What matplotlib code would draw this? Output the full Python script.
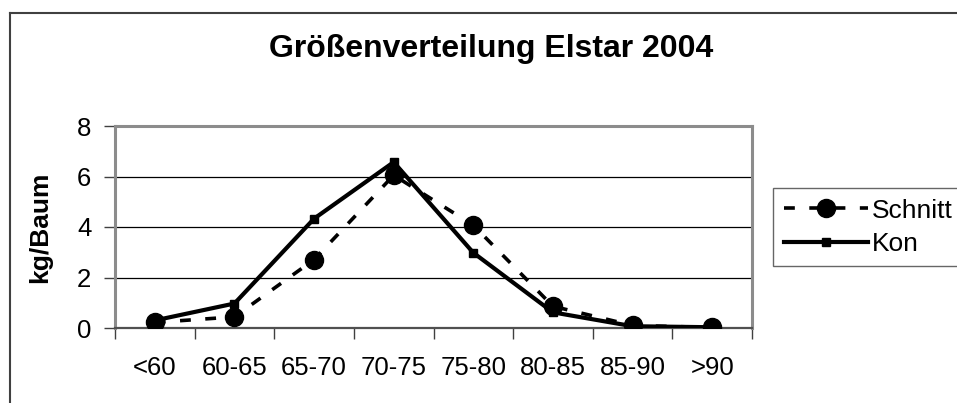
import matplotlib
matplotlib.use('Agg')
import matplotlib.pyplot as plt
from matplotlib.lines import Line2D

plt.rcParams['font.family'] = ['Liberation Sans', 'DejaVu Sans']

categories = ['<60', '60-65', '65-70', '70-75', '75-80', '80-85', '85-90', '>90']
schnitt = [0.22, 0.44, 2.71, 6.05, 4.07, 0.86, 0.10, 0.02]
kon = [0.30, 0.97, 4.33, 6.57, 2.98, 0.62, 0.07, 0.03]

fig = plt.figure(figsize=(9.57, 4.03), dpi=100)
ax = fig.add_axes([115/957, 1-328/403, (752-115)/957, (328-126)/403])

x = list(range(len(categories)))

# gridlines at 2,4,6
for g in [2, 4, 6]:
    ax.axhline(g, color='black', lw=0.9, zorder=1)

ax.plot(x, kon, color='black', lw=3.0, marker='s', markersize=5.5,
        label='Kon', zorder=3)
ax.plot(x, schnitt, color='black', lw=2.6, dashes=(3, 4), marker='o',
        markersize=13, label='Schnitt', zorder=4)

ax.set_xlim(-0.5, len(categories) - 0.5)
ax.set_ylim(0, 8)
ax.set_yticks([0, 2, 4, 6, 8])

# ticks at category borders, labels at centers
ax.set_xticks([i - 0.5 for i in range(len(categories) + 1)])
ax.set_xticklabels([])
ax.set_xticks(x, minor=True)
ax.set_xticklabels(categories, minor=True)
ax.tick_params(axis='x', which='major', length=8, width=1, color='#404040', direction='out')
ax.tick_params(axis='x', which='minor', length=0, pad=20, labelsize=18.5)
ax.tick_params(axis='y', length=8, width=1, color='#404040', pad=9, labelsize=18.5)

for side in ['top', 'right', 'left']:
    ax.spines[side].set_color('#8c8c8c')
    ax.spines[side].set_linewidth(2.2)
ax.spines['bottom'].set_color('#505050')
ax.spines['bottom'].set_linewidth(1.6)

ax.set_ylabel('kg/Baum', fontsize=19, fontweight='bold')
ax.yaxis.set_label_coords(-0.098, 0.5)

fig.text(491/957, 1-57/403, 'Größenverteilung Elstar 2004', ha='center',
         va='baseline', fontsize=23, fontweight='bold')

handles, labels = ax.get_legend_handles_labels()
leg = fig.legend(handles[::-1], labels[::-1], loc='upper left',
                 bbox_to_anchor=(773/957, 1-188/403), fontsize=19,
                 frameon=True, fancybox=False, edgecolor='#404040',
                 handlelength=3.2, handletextpad=0.15, borderpad=0.4,
                 labelspacing=0.35, borderaxespad=0)
leg.get_frame().set_linewidth(1.0)

# outer chart border
fig.add_artist(Line2D([10/957, 10/957], [0, 1-13/403], color='#404040', lw=1.5,
                      transform=fig.transFigure))
fig.add_artist(Line2D([10/957, 1], [1-13/403, 1-13/403], color='#404040', lw=1.5,
                      transform=fig.transFigure))

fig.savefig('out.png', dpi=100)
